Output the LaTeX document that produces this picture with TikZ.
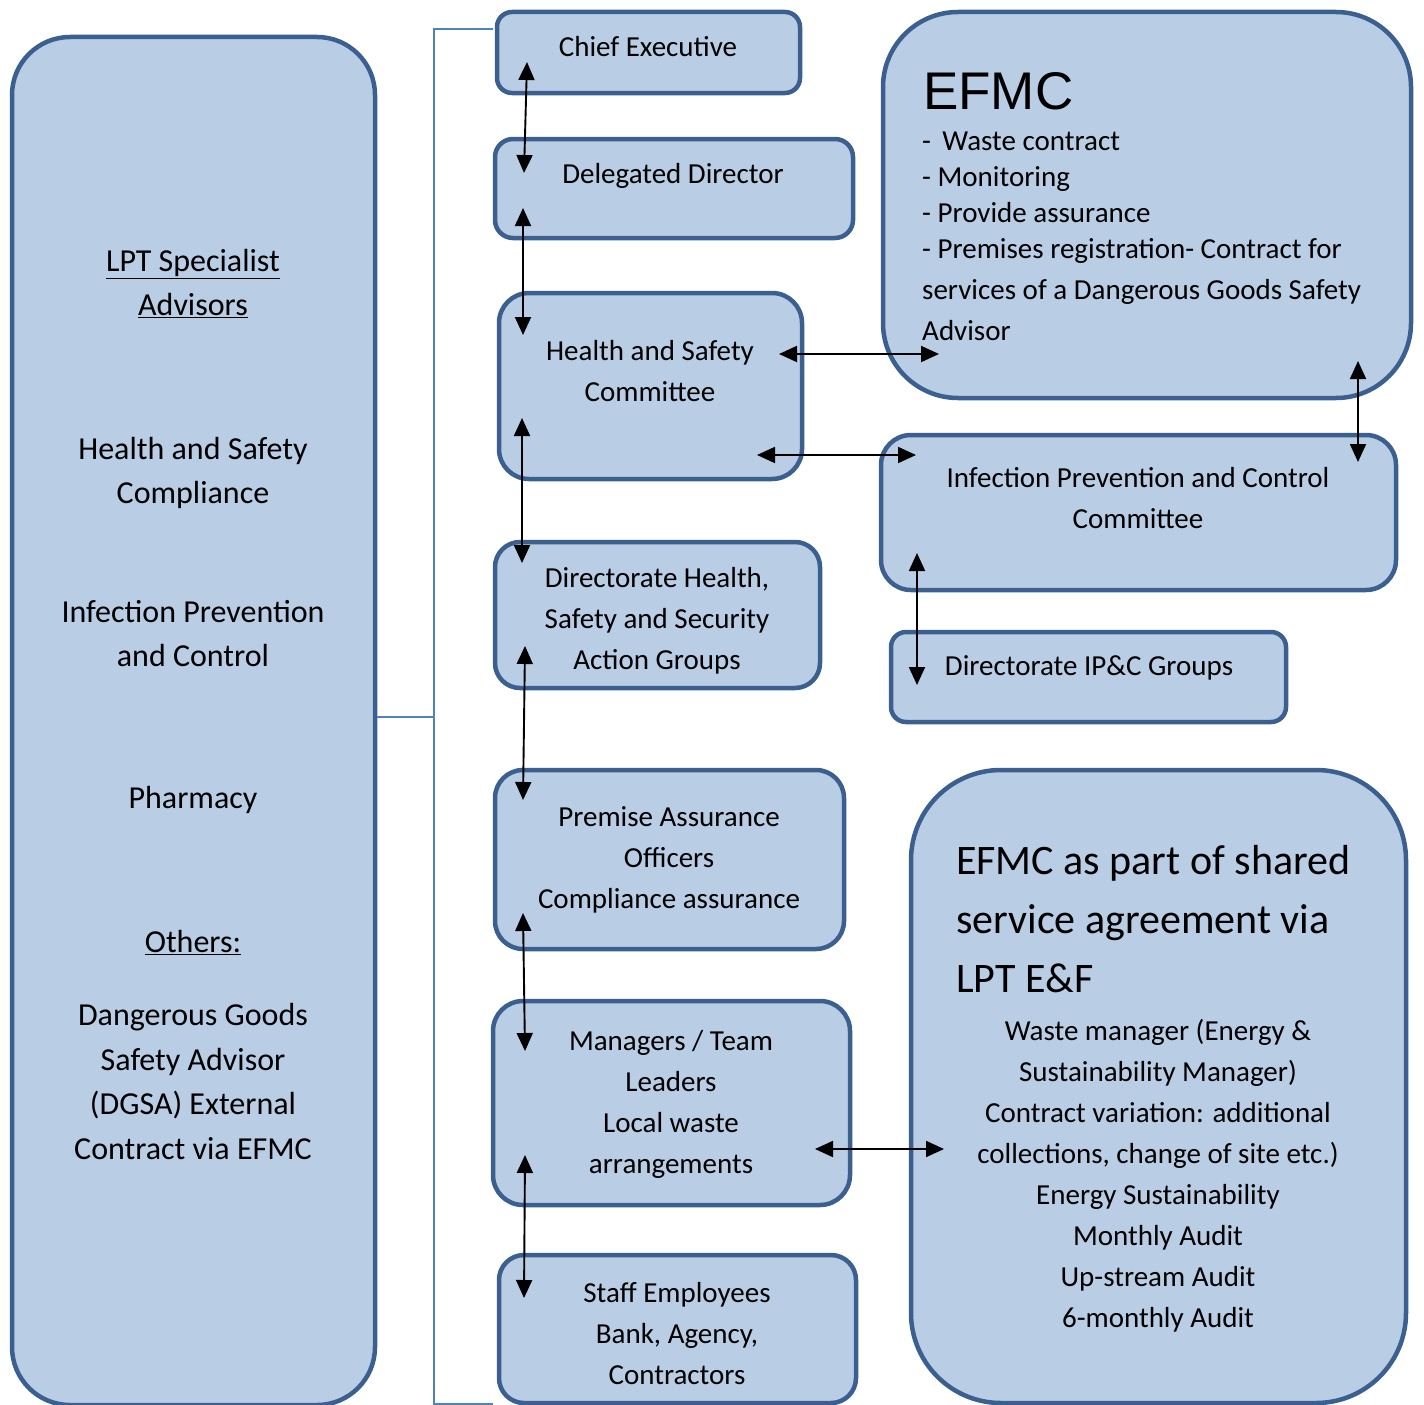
\documentclass[tikz,border=0pt]{standalone}
\usepackage{fontspec}
\setmainfont{Carlito}
\newfontfamily\arialfont{Liberation Sans}
\usetikzlibrary{arrows.meta}

\definecolor{boxfill}{HTML}{B9CDE5}
\definecolor{boxline}{HTML}{3B5F8F}
\definecolor{bracketblue}{HTML}{4F81BD}

\tikzset{
  box/.style={draw=boxline, fill=boxfill, line width=4.5pt},
  lbl/.style={align=center, inner sep=0pt, font=\fontsize{29}{41}\selectfont},
  biglbl/.style={align=center, inner sep=0pt, font=\fontsize{32}{44.5}\selectfont},
  link/.style={{Triangle[length=18pt,width=16pt]}-{Triangle[length=18pt,width=16pt]}, line width=1.9pt},
  bracket/.style={draw=bracketblue, line width=1.6pt}
}

\begin{document}
\begin{tikzpicture}[x=1pt,y=-1pt]
  \useasboundingbox (0,0) rectangle (1424,1405);

  % boxes
  \node[box, rounded corners=58, minimum width=363, minimum height=1368] (left) at (193.5,721) {};
  \node[box, rounded corners=15, minimum width=303, minimum height=81] (ce) at (648.5,52.5) {};
  \node[box, rounded corners=18, minimum width=358, minimum height=99] (dd) at (674,188.5) {};
  \node[box, rounded corners=30, minimum width=303, minimum height=186] (hs) at (650.5,386) {};
  \node[box, rounded corners=25, minimum width=325, minimum height=146] (dhs) at (657.5,615) {};
  \node[box, rounded corners=28, minimum width=349, minimum height=179] (pa) at (669.5,859.5) {};
  \node[box, rounded corners=30, minimum width=357, minimum height=204] (mg) at (671.5,1103) {};
  \node[box, rounded corners=25, minimum width=357, minimum height=148] (st) at (677.5,1329) {};
  \node[box, rounded corners=75, minimum width=528, minimum height=386] (efmc) at (1147,205) {};
  \node[box, rounded corners=30, minimum width=515, minimum height=155] (ipc) at (1138.5,512.5) {};
  \node[box, rounded corners=15, minimum width=395, minimum height=90] (dipc) at (1088.5,677) {};
  \node[box, rounded corners=90, minimum width=495, minimum height=633] (shared) at (1158.5,1086.5) {};

  % bracket
  \coordinate (brtop) at (493,29);
  \coordinate (brbot) at (493,1404);
  \coordinate (brmid) at (434,717);
  \draw[bracket] (brtop) -- (434,29) -- (434,1404) -- (brbot);
  \draw[bracket] (left.east |- brmid) -- (brmid);

  % left column text
  \node[biglbl] (lpt) at (193,283.5) {\underline{LPT Specialist}\\\underline{Advisors}};
  \node[biglbl] (hsc) at (193,473) {Health and Safety\\Compliance};
  \node[biglbl] (ipct) at (193,633.5) {Infection Prevention\\and Control};
  \node[biglbl] (ph) at (193,800) {Pharmacy};
  \node[biglbl] (oth) at (193,943) {\underline{Others:}};
  \node[biglbl] (dgsa) at (193,1081.5) {Dangerous Goods\\Safety Advisor\\(DGSA) External\\Contract via EFMC};

  % middle column text
  \node[lbl] (cet) at (648,47) {Chief Executive};
  \node[lbl] (ddt) at (673,176) {Delegated Director};
  \node[lbl] (hst) at (650,371) {Health and Safety\\Committee};
  \node[lbl] (dhst) at (657,621) {Directorate Health,\\Safety and Security\\Action Groups};
  \node[lbl] (pat) at (669,860) {Premise Assurance\\Officers\\Compliance assurance};
  \node[lbl] (mgt) at (671,1104.5) {Managers / Team\\Leaders\\Local waste\\arrangements};
  \node[lbl] (stt) at (677,1334) {Staff Employees\\Bank, Agency,\\Contractors};

  % right column text
  \node[anchor=west, inner sep=0pt, font=\arialfont\fontsize{53}{60}\selectfont] (efmct) at (923,91) {EFMC};
  \node[anchor=west, align=left, inner sep=0pt, font=\fontsize{29}{36}\selectfont] (efmcl) at (922,236)
    {-\, Waste contract\\- Monitoring\\- Provide assurance\\- Premises registration- Contract for\\[5pt]services of a Dangerous Goods Safety\\[5pt]Advisor};
  \node[lbl] (ipcc) at (1138,498) {Infection Prevention and Control\\Committee};
  \node[lbl] (dipct) at (1089,668) {Directorate IP\&C Groups};
  \node[anchor=west, align=left, inner sep=0pt, font=\fontsize{42}{59}\selectfont] (sht) at (956,919)
    {EFMC as part of shared\\service agreement via\\LPT E\&F};
  \node[lbl] (shl) at (1158,1176) {Waste manager (Energy \&\\Sustainability Manager)\\Contract variation: additional\\collections, change of site etc.)\\Energy Sustainability\\Monthly Audit\\Up-stream Audit\\6-monthly Audit};

  % arrows
  \coordinate (a1) at (527,62);   \coordinate (b1) at (524,173);
  \coordinate (a2) at (523,208);  \coordinate (b2) at (523,335);
  \coordinate (a3) at (522,418);  \coordinate (b3) at (522,563);
  \coordinate (a4) at (525,646);  \coordinate (b4) at (523,800);
  \coordinate (a5) at (523,913);  \coordinate (b5) at (525,1051);
  \coordinate (a6) at (525,1155); \coordinate (b6) at (524,1298);
  \coordinate (a7) at (779,354);  \coordinate (b7) at (939,354);
  \coordinate (a8) at (757,455);  \coordinate (b8) at (916,455);
  \coordinate (a9) at (1358,361); \coordinate (b9) at (1358,462);
  \coordinate (a10) at (917,553); \coordinate (b10) at (917,685);
  \coordinate (a11) at (815,1149); \coordinate (b11) at (944,1149);
  \foreach \i in {1,...,11}
    \draw[link] (a\i) -- (b\i);
\end{tikzpicture}
\end{document}
